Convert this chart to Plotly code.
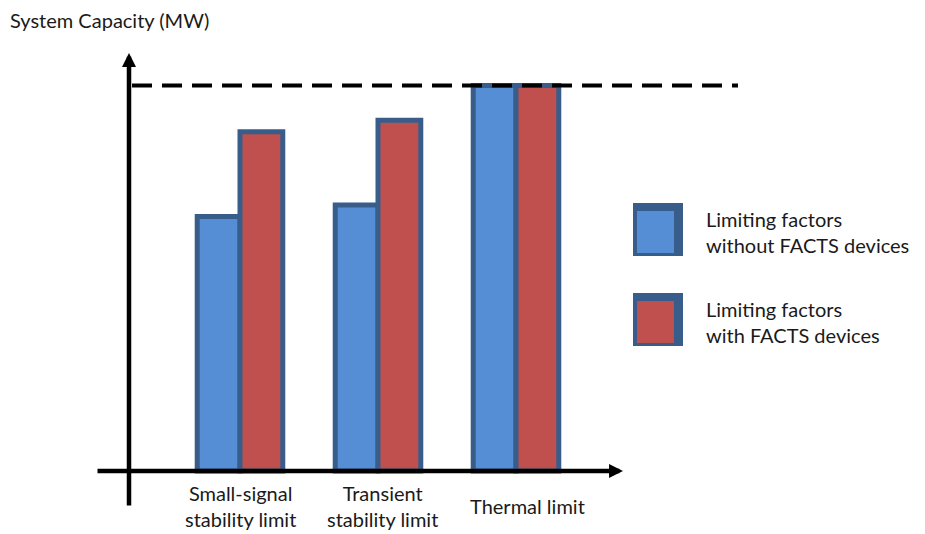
import plotly.graph_objects as go

# Limiting factors on transmission capacity
categories = ["Small-signal stability limit", "Transient stability limit", "Thermal limit"]
category_labels = ["Small-signal<br>stability limit", "Transient<br>stability limit", "Thermal limit"]
without_facts = [66, 69, 100]
with_facts = [88, 91, 100]
thermal_limit = 100
series_names = ["Limiting factors<br>without FACTS devices", "Limiting factors<br>with FACTS devices"]
y_title = "System Capacity (MW)"

W, H = 925, 534
BLUE = "#558ED5"
RED = "#C0504D"
OUTLINE = "#385D8A"
FONT = dict(family="Lato, 'Liberation Sans', sans-serif", size=20, color="#1a1a1a")


def px(x):
    return x / W


def py(y):
    return 1 - y / H


fig = go.Figure()
for vals, color, name in [(without_facts, BLUE, series_names[0]), (with_facts, RED, series_names[1])]:
    fig.add_trace(go.Bar(
        x=categories, y=vals, name=name,
        marker=dict(color=color, line=dict(color=OUTLINE, width=5)),
        showlegend=False, hoverinfo="skip",
    ))

shapes = []
annotations = []

# thermal limit reference line
shapes.append(dict(type="line", xref="paper", yref="y", x0=px(132), x1=px(738),
                   y0=thermal_limit, y1=thermal_limit,
                   line=dict(color="black", width=4, dash="20px,10px")))

# axes drawn as arrows
annotations.append(dict(xref="paper", yref="paper", x=px(129), y=py(53),
                        axref="pixel", ayref="pixel", ax=0, ay=507 - 53,
                        showarrow=True, arrowhead=2, arrowwidth=4.5, arrowsize=0.62,
                        arrowcolor="black", text=""))
annotations.append(dict(xref="paper", yref="paper", x=px(623), y=py(471),
                        axref="pixel", ayref="pixel", ax=96 - 623, ay=0,
                        showarrow=True, arrowhead=2, arrowwidth=4.5, arrowsize=0.62,
                        arrowcolor="black", text=""))

# axis title
annotations.append(dict(xref="paper", yref="paper", x=px(8), y=py(20), xanchor="left",
                        yanchor="middle", text=y_title, showarrow=False, font=FONT))

# category labels
for i, (cat, lab) in enumerate(zip(categories, category_labels)):
    annotations.append(dict(xref="x", yref="paper", x=cat, y=py(506), xanchor="center",
                            yanchor="middle", text=lab, showarrow=False, font=FONT,
                            xshift=11 if i == 2 else (4 if i == 1 else 0)))

# legend
for (name, color, top) in [(series_names[0], BLUE, 203), (series_names[1], RED, 293)]:
    shapes.append(dict(type="rect", xref="paper", yref="paper", x0=px(633), x1=px(683),
                       y0=py(top), y1=py(top + 53), fillcolor=OUTLINE, line=dict(width=0)))
    shapes.append(dict(type="rect", xref="paper", yref="paper", x0=px(637), x1=px(674),
                       y0=py(top + 8), y1=py(top + 50), fillcolor=color, line=dict(width=0)))
    annotations.append(dict(xref="paper", yref="paper", x=px(704), y=py(top + 29),
                            xanchor="left", yanchor="middle", align="left", text=name,
                            showarrow=False, font=FONT))

fig.update_layout(
    width=W, height=H,
    margin=dict(l=0, r=0, t=0, b=0),
    paper_bgcolor="white", plot_bgcolor="white",
    barmode="group", bargap=0.38, bargroupgap=0,
    xaxis=dict(visible=False, range=[-240 / 138, (W - 240) / 138]),
    yaxis=dict(visible=False, range=[-(H - 471) / 3.855, 471 / 3.855]),
    shapes=shapes, annotations=annotations,
)

fig.write_html("out.html")
